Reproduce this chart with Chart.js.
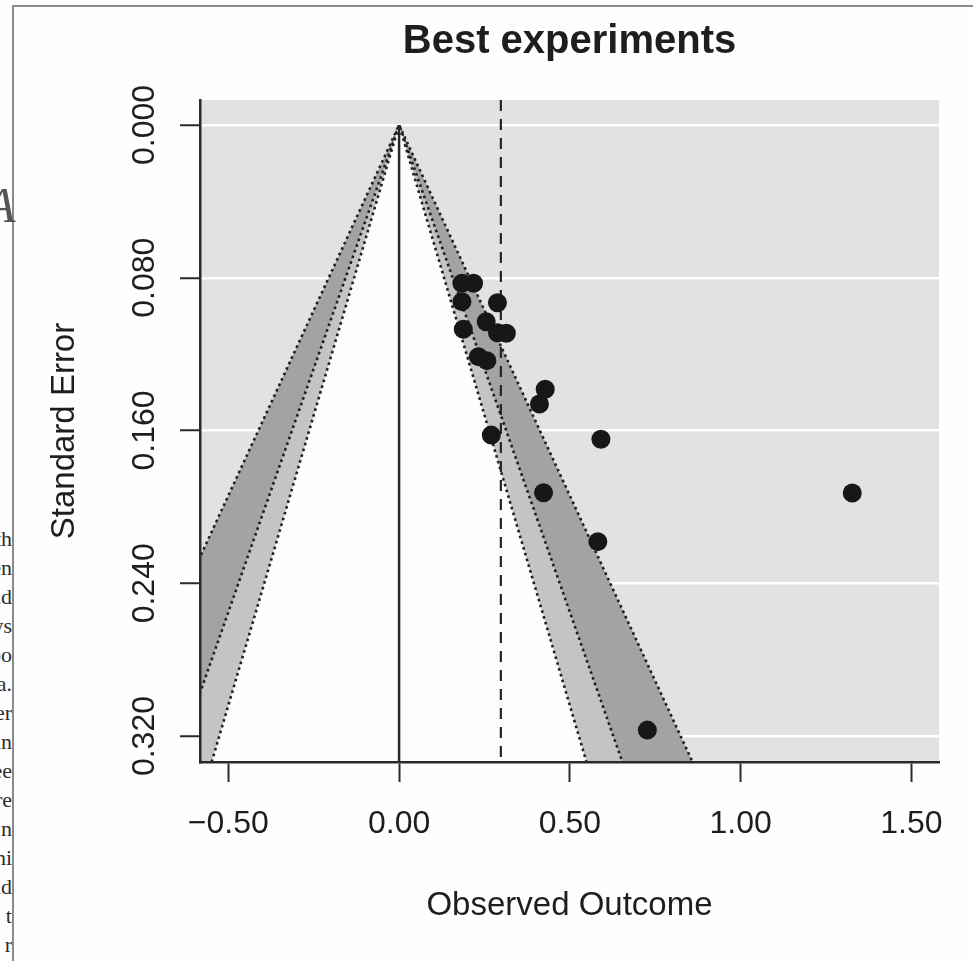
<!DOCTYPE html>
<html>
<head>
<meta charset="utf-8">
<title>Best experiments</title>
<script src="https://cdn.jsdelivr.net/npm/chart.js@4.4.1/dist/chart.umd.min.js"></script>
<style>
    html, body { margin: 0; padding: 0; background: #fff; }
    #page { position: relative; width: 973px; height: 961px; overflow: hidden; background: #fefefe; }
    #page canvas { position: absolute; left: 0; top: 0; }
    .frame { position: absolute; left: 12px; top: 5px; right: -4px; bottom: -4px;
             border-top: 2px solid #8a8a8a; border-left: 2px solid #8a8a8a; }
    .margin-col { position: absolute; left: 0; top: 524px; width: 12px; height: 440px; overflow: hidden; }
    .margin-col div { position: absolute; right: 0; top: 0; white-space: pre; text-align: right;
                      font: 22px/29px "Liberation Serif", "DejaVu Serif", serif; color: #2e2e2e; }
    .cap { position: absolute; left: -15px; top: 180px; font: italic 50px/1 "Liberation Serif", serif; color: #555; }
</style>
</head>
<body>
<div id="page">
    <div class="frame"></div>
    <div class="cap">A</div>
    <div class="margin-col"><div id="marginText"></div></div>
    <canvas id="funnelChart" width="973" height="961"></canvas>
</div>

<script>
// study estimates (observed outcome) and their standard errors
const effects   = [0.184, 0.218, 0.184, 0.288, 0.255, 0.188, 0.288, 0.314, 0.232,
                   0.257, 0.428, 0.411, 0.270, 0.591, 0.423, 1.327, 0.582, 0.727];
const stdErrors = [0.0829, 0.0829, 0.0925, 0.0931, 0.1030, 0.1070, 0.1088, 0.1091, 0.1213,
                   0.1234, 0.1384, 0.1461, 0.1624, 0.1646, 0.1926, 0.1927, 0.2182, 0.3169];
const pooledEstimate = 0.298;

// contour levels 99 / 95 / 90 %, outermost first
const contourZ = [2.576, 1.960, 1.645];
const contourFills = ['#a3a3a3', '#c4c4c4', '#fdfdfb'];

const xTicks = [-0.5, 0, 0.5, 1.0, 1.5];
const yTicks = [0, 0.08, 0.16, 0.24, 0.32];
const xRange = [-0.583, 1.581];
const seRange = [-0.0131, 0.3336];

const chartTitle = 'Best experiments';
const xTitle = 'Observed Outcome';
const yTitle = 'Standard Error';

// clipped words from the neighbouring text column
const marginWords = ['th', 'en', 'nd', 'ys', 'po', 'a.', 'er', 'in', 'ee', 're', 'n', 'hi', 'ld', 's t', 'r'];

const FONT = '"Liberation Sans", Arial, Helvetica, sans-serif';
const INK = '#1e1e1e';

document.getElementById('marginText').textContent = marginWords.join('\n');

function fmtX(v) {
    return v < 0 ? '\u2212' + Math.abs(v).toFixed(2) : v.toFixed(2);
}

const plotFrame = {
    id: 'plotFrame',
    beforeDraw(chart) {
        const { ctx, chartArea: a } = chart;
        ctx.save();
        ctx.fillStyle = '#e2e2e2';
        ctx.fillRect(a.left, a.top, a.right - a.left, a.bottom - a.top);
        ctx.restore();
    },
    afterDraw(chart) {
        const { ctx, chartArea: a, scales: { x, y } } = chart;
        const midX = (a.left + a.right) / 2;
        const midY = (a.top + a.bottom) / 2;

        ctx.save();
        ctx.fillStyle = INK;
        ctx.textAlign = 'center';
        ctx.textBaseline = 'alphabetic';

        ctx.font = 'bold 40px ' + FONT;
        ctx.fillText(chartTitle, midX, a.top - 47);

        ctx.font = '32px ' + FONT;
        x.ticks.forEach(t => {
            ctx.fillText(fmtX(t.value), x.getPixelForValue(t.value), a.bottom + 71);
        });
        y.ticks.forEach(t => {
            ctx.save();
            ctx.translate(a.left - 46, y.getPixelForValue(t.value));
            ctx.rotate(-Math.PI / 2);
            ctx.fillText(t.value.toFixed(3), 0, 0);
            ctx.restore();
        });

        ctx.font = '33px ' + FONT;
        ctx.fillText(xTitle, midX, a.bottom + 153);
        ctx.translate(a.left - 126, midY);
        ctx.rotate(-Math.PI / 2);
        ctx.fillText(yTitle, 0, 0);
        ctx.restore();
    }
};

const seBottom = seRange[1];

const contourSets = contourZ.map((z, i) => ({
    data: [{ x: -z * seBottom, y: seBottom }, { x: 0, y: 0 }, { x: z * seBottom, y: seBottom }],
    showLine: true,
    fill: 'shape',
    backgroundColor: contourFills[i],
    borderColor: '#1f1f1f',
    borderWidth: 2.6,
    borderDash: [2.6, 3.4],
    pointRadius: 0,
    order: 4 - i
}));

const datasets = [
    {
        data: effects.map((e, i) => ({ x: e, y: stdErrors[i] })),
        pointRadius: 9.5,
        pointHoverRadius: 9.5,
        backgroundColor: '#171717',
        borderWidth: 0,
        order: 0
    },
    {
        // pooled estimate
        data: [{ x: pooledEstimate, y: seRange[0] }, { x: pooledEstimate, y: seRange[1] }],
        showLine: true,
        borderColor: '#262626',
        borderWidth: 2.2,
        borderDash: [11, 8],
        pointRadius: 0,
        order: 1
    },
    {
        // reference line at zero
        data: [{ x: 0, y: 0 }, { x: 0, y: seRange[1] }],
        showLine: true,
        borderColor: '#262626',
        borderWidth: 2.5,
        pointRadius: 0,
        order: 1
    },
    ...contourSets
];

new Chart(document.getElementById('funnelChart').getContext('2d'), {
    type: 'scatter',
    data: { datasets },
    options: {
        responsive: false,
        animation: false,
        events: [],
        layout: { padding: { top: 100, right: 34, left: 0, bottom: 0 } },
        plugins: { legend: { display: false }, tooltip: { enabled: false } },
        scales: {
            x: {
                type: 'linear',
                min: xRange[0],
                max: xRange[1],
                afterBuildTicks: s => { s.ticks = xTicks.map(v => ({ value: v })); },
                afterFit: s => { s.height = 199; },
                ticks: { display: false },
                grid: { drawOnChartArea: false, color: '#2a2a2a', tickColor: '#2a2a2a', tickLength: 20, tickWidth: 2 },
                border: { display: true, color: '#2a2a2a', width: 2.5, z: 1 }
            },
            y: {
                type: 'linear',
                reverse: true,
                min: seRange[0],
                max: seRange[1],
                afterBuildTicks: s => { s.ticks = yTicks.map(v => ({ value: v })); },
                afterFit: s => { s.width = 200; },
                ticks: { display: false },
                grid: { color: '#ffffff', lineWidth: 2.5, tickColor: '#2a2a2a', tickLength: 20, tickWidth: 2 },
                border: { display: true, color: '#2a2a2a', width: 2.5, z: 1 }
            }
        }
    },
    plugins: [plotFrame]
});
</script>
</body>
</html>
